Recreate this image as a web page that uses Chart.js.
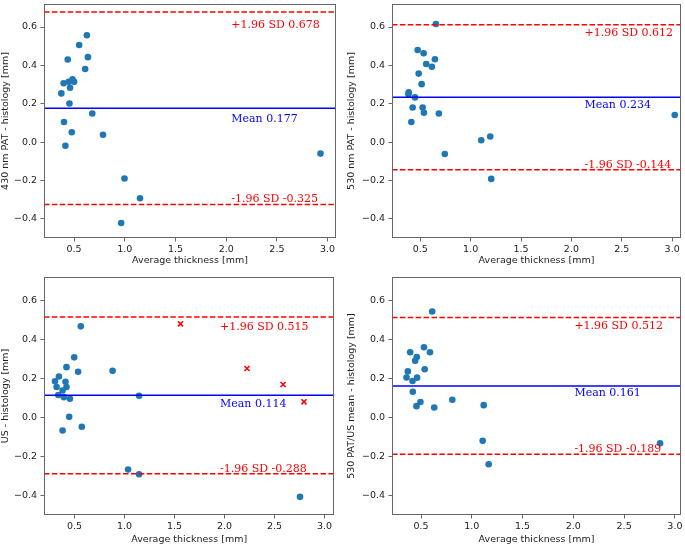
<!DOCTYPE html>
<html>
<head>
<meta charset="utf-8">
<script src="https://cdn.jsdelivr.net/npm/chart.js@4.4.0/dist/chart.umd.min.js"></script>
<style>
  html, body { margin: 0; padding: 0; background: #fff; }
  #wrap { position: relative; width: 685px; height: 546px; }
  .cell { position: absolute; }
  canvas { display: block; }
</style>
</head>
<body>
<div id="wrap">
  <div class="cell" style="left:0;top:0"><canvas id="c0" width="340" height="270"></canvas></div>
  <div class="cell" style="left:340px;top:0"><canvas id="c1" width="345" height="270"></canvas></div>
  <div class="cell" style="left:0;top:270px"><canvas id="c2" width="340" height="276"></canvas></div>
  <div class="cell" style="left:340px;top:270px"><canvas id="c3" width="345" height="276"></canvas></div>
</div>
<script>
const xTitle = 'Average thickness [mm]';
const yTitles = ['430 nm PAT - histology [mm]', '530 nm PAT - histology [mm]', 'US - histology [mm]', '530 PAT/US mean - histology [mm]'];

// 430 nm PAT vs histology
const pat430X = [0.626, 0.55, 0.636, 0.437, 0.609, 0.397, 0.447, 0.484, 0.5, 0.46, 0.374, 0.454, 0.679, 0.4, 0.477, 0.785, 0.414, 2.93, 0.997, 1.15, 0.964];
const pat430Y = [0.557, 0.506, 0.443, 0.431, 0.381, 0.307, 0.314, 0.328, 0.314, 0.283, 0.254, 0.201, 0.149, 0.105, 0.051, 0.038, -0.019, -0.06, -0.19, -0.293, -0.422];

// 530 nm PAT vs histology
const pat530X = [0.655, 0.474, 0.533, 0.645, 0.559, 0.615, 0.484, 0.513, 0.385, 0.382, 0.447, 0.424, 0.523, 0.536, 0.684, 0.411, 3.026, 1.105, 1.194, 0.743, 1.204];
const pat530Y = [0.616, 0.48, 0.463, 0.432, 0.407, 0.393, 0.357, 0.302, 0.259, 0.249, 0.233, 0.18, 0.18, 0.153, 0.149, 0.105, 0.141, 0.01, 0.029, -0.062, -0.192];

// US vs histology (+ red crosses)
const usX = [0.563, 0.497, 0.42, 0.536, 0.881, 0.344, 0.305, 0.41, 0.321, 0.42, 0.381, 0.338, 0.394, 0.454, 1.146, 0.447, 0.573, 0.381, 1.036, 1.146, 2.755];
const usY = [0.467, 0.308, 0.258, 0.234, 0.239, 0.21, 0.185, 0.183, 0.156, 0.156, 0.138, 0.115, 0.104, 0.096, 0.111, 0.003, -0.048, -0.067, -0.267, -0.291, -0.407];
const usCrossX = [1.56, 2.225, 2.586, 2.795];
const usCrossY = [0.48, 0.251, 0.169, 0.08];

// 530 PAT/US mean vs histology
const patUsX = [0.61, 0.529, 0.393, 0.588, 0.458, 0.442, 0.37, 0.536, 0.357, 0.461, 0.416, 0.419, 0.808, 0.494, 0.455, 0.63, 1.117, 1.107, 2.854, 1.166];
const patUsY = [0.543, 0.36, 0.334, 0.334, 0.31, 0.291, 0.236, 0.247, 0.205, 0.204, 0.187, 0.132, 0.091, 0.079, 0.058, 0.051, 0.063, -0.12, -0.132, -0.24];

const means = [0.177, 0.234, 0.114, 0.161];
const upper = [0.678, 0.612, 0.515, 0.512];
const lower = [-0.325, -0.144, -0.288, -0.189];

const xLims = [[0.203, 3.083], [0.219, 3.088], [0.195, 3.099], [0.214, 3.06]];
const yLim = [-0.5, 0.72];
const labelX = [2.05, 2.13, 1.955, 2.01];

const pts = (xs, ys) => xs.map((v, i) => ({x: v, y: ys[i]}));

// layout per panel (pixels)
const boxes = [
  {pad: {left: 0, top: 0, right: 3, bottom: 0}, yW: 44, xH: 32, xtPad: 3.5, offUp: 15.5, offMean: 13.7},
  {pad: {left: 6, top: 0, right: 2, bottom: 0}, yW: 46, xH: 32, xtPad: 3.5, offUp: 11.6, offMean: 10.7},
  {pad: {left: 0, top: 7, right: 3, bottom: 0}, yW: 44, xH: 31, xtPad: 1, offUp: 13, offMean: 11.3},
  {pad: {left: 6, top: 7, right: 2, bottom: 0}, yW: 46, xH: 31, xtPad: 1, offUp: 11.3, offMean: 10}
];

Chart.defaults.font.family = 'DejaVu Sans';
Chart.defaults.font.size = 9.5;
Chart.defaults.color = '#222';

const decor = {
  id: 'decor',
  afterDatasetsDraw(chart, args, o) {
    const {ctx, chartArea: a, scales: {x, y}} = chart;
    ctx.save();
    ctx.strokeStyle = '#666';
    ctx.lineWidth = 1;
    ctx.strokeRect(Math.round(a.left) + 0.5, Math.round(a.top) + 0.5, Math.round(a.width) - 1, Math.round(a.height) - 1);
    ctx.font = '11px "DejaVu Serif"';
    ctx.textAlign = 'left';
    ctx.textBaseline = 'alphabetic';
    const px = x.getPixelForValue(o.labelX);
    ctx.fillStyle = 'red';
    ctx.fillText('+1.96 SD ' + o.upper.toFixed(3), px, y.getPixelForValue(o.upper) + o.offUp);
    ctx.fillText('-1.96 SD ' + o.lower.toFixed(3), px, y.getPixelForValue(o.lower) - 2);
    ctx.fillStyle = 'blue';
    ctx.fillText('Mean ' + o.mean.toFixed(3), px, y.getPixelForValue(o.mean) + o.offMean);
    ctx.restore();
  }
};

const scatterSets = [
  [pts(pat430X, pat430Y)],
  [pts(pat530X, pat530Y)],
  [pts(usX, usY)],
  [pts(patUsX, patUsY)]
];

function hline(v, x0, x1, color, dash) {
  return {
    type: 'line', data: [{x: x0, y: v}, {x: x1, y: v}],
    borderColor: color, borderWidth: 1.5, borderDash: dash,
    pointRadius: 0, showLine: true, fill: false, order: 0
  };
}

for (let i = 0; i < 4; i++) {
  const b = boxes[i];
  const [x0, x1] = xLims[i];
  const datasets = [
    hline(upper[i], x0, x1, 'red', [5.5, 2.4]),
    hline(means[i], x0, x1, 'blue', []),
    hline(lower[i], x0, x1, 'red', [5.5, 2.4]),
    {data: scatterSets[i][0], backgroundColor: '#1f77b4', borderWidth: 0, pointRadius: 3.3, order: 1}
  ];
  if (i === 2) {
    datasets.push({data: pts(usCrossX, usCrossY), pointStyle: 'crossRot', borderColor: 'red',
      borderWidth: 1.6, pointRadius: 3.6, order: 1});
  }
  new Chart(document.getElementById('c' + i), {
    type: 'scatter',
    data: {datasets},
    options: {
      responsive: false,
      animation: false,
      events: [],
      layout: {padding: b.pad},
      plugins: {
        legend: {display: false},
        tooltip: {enabled: false},
        decor: {labelX: labelX[i], upper: upper[i], lower: lower[i], mean: means[i], offUp: b.offUp, offMean: b.offMean}
      },
      scales: {
        x: {
          type: 'linear', min: x0, max: x1,
          grid: {drawOnChartArea: false, drawTicks: true, tickLength: 3.5, color: '#666'},
          border: {display: false},
          ticks: {stepSize: 0.5, includeBounds: false, autoSkip: false, maxRotation: 0, padding: 2,
            callback: v => v.toFixed(1)},
          title: {display: true, text: xTitle, padding: {top: 0, bottom: b.xtPad}},
          afterFit: s => { s.height = b.xH; s.paddingLeft = 0; s.paddingRight = 0; }
        },
        y: {
          type: 'linear', min: yLim[0], max: yLim[1],
          grid: {drawOnChartArea: false, drawTicks: true, tickLength: 3.5, color: '#666'},
          border: {display: false},
          ticks: {stepSize: 0.2, includeBounds: false, autoSkip: false, padding: 3.5,
            callback: v => v.toFixed(1).replace('-', '\u2212')},
          title: {display: true, text: yTitles[i], padding: {top: 0, bottom: 0}},
          afterFit: s => { s.width = b.yW; s.paddingTop = 0; s.paddingBottom = 0; }
        }
      }
    },
    plugins: [decor]
  });
}
</script>
</body>
</html>
